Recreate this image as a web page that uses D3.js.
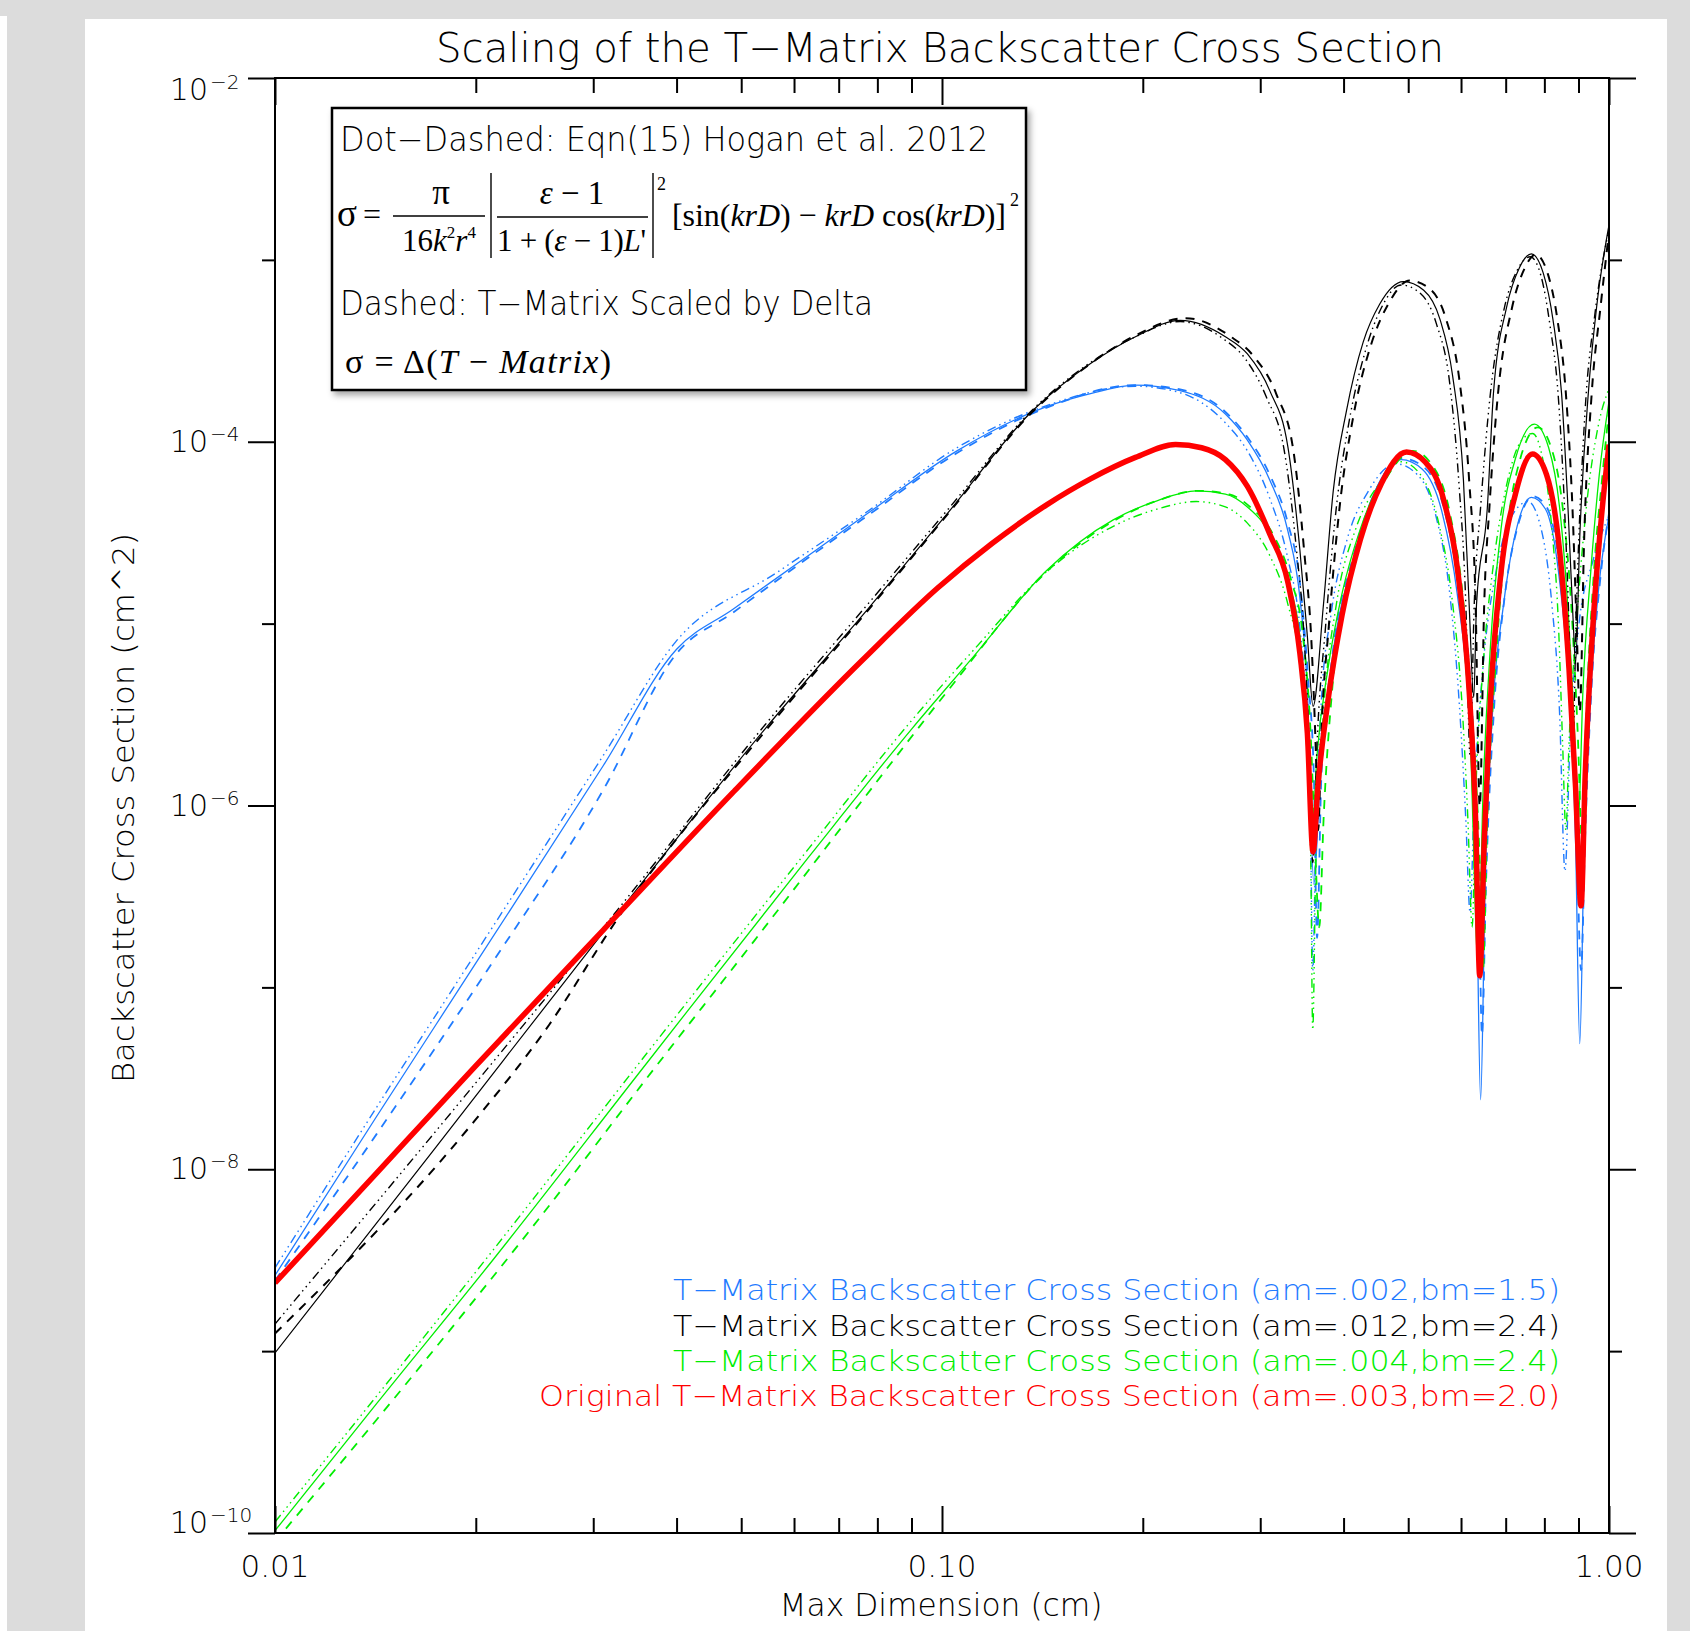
<!DOCTYPE html>
<html>
<head>
<meta charset="utf-8">
<script src="https://cdn.jsdelivr.net/npm/d3@7"></script>
<style>
  body { margin: 0; background: #dcdcdc; }
  svg { display: block; }
</style>
</head>
<body>
<div id="chart"></div>
<script>
// ---- data: [max dimension (cm), backscatter cross section (cm^2)] ----

const redOriginal = [
  [0.0100, 2.37e-9], [0.0142, 9.53e-9], [0.0199, 3.63e-8], [0.0311, 2.08e-7], [0.0486, 1.18e-6],
  [0.0760, 6.31e-6], [0.0985, 1.57e-5], [0.1187, 2.75e-5], [0.1435, 4.50e-5], [0.167, 6.25e-5],
  [0.195, 8.20e-5], [0.224, 9.66e-5], [0.245, 9.27e-5], [0.266, 7.98e-5], [0.287, 5.68e-5],
  [0.310, 3.11e-5], [0.330, 1.69e-5], [0.344, 6.85e-6], [0.353, 2.49e-6], [0.360, 5.56e-7],
  [0.366, 1.26e-6], [0.379, 3.76e-6], [0.398, 1.12e-5], [0.424, 2.91e-5], [0.456, 5.92e-5],
  [0.497, 8.79e-5], [0.530, 7.76e-5], [0.566, 4.69e-5], [0.596, 1.69e-5], [0.617, 4.31e-6],
  [0.631, 8.37e-7], [0.640, 1.16e-7], [0.650, 6.37e-7], [0.664, 3.76e-6], [0.689, 1.93e-5],
  [0.724, 5.16e-5], [0.768, 8.55e-5], [0.806, 6.59e-5], [0.843, 2.54e-5], [0.871, 5.66e-6],
  [0.891, 1.26e-6], [0.908, 2.81e-7], [0.921, 1.45e-6], [0.946, 9.77e-6], [0.974, 3.82e-5],
  [1.000, 9.66e-5]
]

// am=.002, bm=1.5
const blueTMatrix = [
  [0.0100, 2.61e-9], [0.0142, 1.95e-8], [0.0199, 1.32e-7], [0.0311, 1.67e-6], [0.0400, 7.23e-6],
  [0.0486, 1.20e-5], [0.0614, 2.21e-5], [0.0774, 4.04e-5], [0.1053, 8.91e-5], [0.1435, 1.56e-4],
  [0.167, 1.84e-4], [0.195, 2.05e-4], [0.2275, 1.91e-4], [0.266, 1.42e-4], [0.287, 1.02e-4],
  [0.310, 6.17e-5], [0.330, 3.24e-5], [0.344, 1.39e-5], [0.353, 4.31e-6], [0.361, 3.69e-7],
  [0.369, 1.45e-6], [0.383, 5.66e-6], [0.413, 2.21e-5], [0.444, 5.16e-5], [0.488, 7.98e-5],
  [0.525, 7.06e-5], [0.562, 4.09e-5], [0.592, 1.47e-5], [0.617, 3.28e-6], [0.633, 3.69e-7],
  [0.642, 2.41e-8], [0.652, 3.69e-7], [0.669, 3.28e-6], [0.695, 1.28e-5], [0.729, 3.48e-5],
  [0.765, 4.95e-5], [0.803, 4.27e-5], [0.840, 1.93e-5], [0.871, 4.31e-6], [0.891, 6.37e-7],
  [0.904, 4.90e-8], [0.918, 6.37e-7], [0.939, 4.31e-6], [0.967, 1.69e-5], [1.000, 3.93e-5]
]
const blueEqn = [
  [0.0100, 2.87e-9], [0.0142, 2.19e-8], [0.0199, 1.50e-7], [0.0311, 1.90e-6], [0.0399, 7.96e-6],
  [0.0568, 1.93e-5], [0.0774, 4.15e-5], [0.1053, 9.27e-5], [0.1435, 1.58e-4], [0.195, 2.02e-4],
  [0.2275, 1.86e-4], [0.266, 1.27e-4], [0.287, 8.91e-5], [0.310, 4.89e-5], [0.330, 2.28e-5],
  [0.344, 9.51e-6], [0.352, 3.19e-6], [0.357, 7.31e-7], [0.3596, 1.24e-7], [0.3636, 7.31e-7],
  [0.3705, 3.76e-6], [0.383, 1.12e-5], [0.405, 2.91e-5], [0.436, 5.37e-5], [0.479, 7.57e-5],
  [0.516, 6.59e-5], [0.551, 3.82e-5], [0.577, 1.47e-5], [0.596, 3.76e-6], [0.610, 8.37e-7],
  [0.619, 2.59e-7], [0.628, 1.10e-6], [0.647, 5.66e-6], [0.677, 1.93e-5], [0.713, 3.82e-5],
  [0.756, 4.69e-5], [0.791, 3.33e-5], [0.821, 1.28e-5], [0.843, 3.28e-6], [0.859, 4.36e-7],
  [0.875, 2.49e-6], [0.901, 9.77e-6], [0.946, 2.21e-5], [1.000, 3.93e-5]
]
const blueDelta = [
  [0.0100, 2.44e-9], [0.0142, 1.56e-8], [0.0208, 1.24e-7], [0.0311, 1.23e-6], [0.0400, 6.85e-6],
  [0.0486, 1.15e-5], [0.0614, 2.15e-5], [0.0774, 3.93e-5], [0.1053, 8.67e-5], [0.1435, 1.54e-4],
  [0.195, 2.05e-4], [0.2275, 1.94e-4], [0.266, 1.46e-4], [0.287, 1.06e-4], [0.310, 6.59e-5],
  [0.330, 3.57e-5], [0.344, 1.69e-5], [0.354, 4.93e-6], [0.361, 1.45e-6], [0.365, 1.87e-7],
  [0.3705, 1.45e-6], [0.3845, 6.49e-6], [0.414, 2.37e-5], [0.446, 5.30e-5], [0.4895, 8.09e-5],
  [0.5275, 7.26e-5], [0.566, 4.27e-5], [0.596, 1.57e-5], [0.6235, 3.28e-6], [0.638, 3.69e-7],
  [0.645, 5.47e-8], [0.654, 3.69e-7], [0.672, 3.28e-6], [0.697, 1.37e-5], [0.732, 3.57e-5],
  [0.768, 5.02e-5], [0.806, 4.38e-5], [0.843, 2.07e-5], [0.875, 4.61e-6], [0.894, 6.82e-7],
  [0.908, 1.24e-7], [0.921, 6.82e-7], [0.942, 4.61e-6], [0.971, 1.80e-5], [1.000, 4.04e-5]
]

// am=.012, bm=2.4
const blackTMatrix = [
  [0.0100, 9.77e-10], [0.01728, 1.27e-8], [0.0323, 2.42e-7], [0.0543, 2.64e-6], [0.0774, 1.20e-5],
  [0.1022, 4.09e-5], [0.1367, 1.48e-4], [0.167, 2.69e-4], [0.195, 3.78e-4], [0.2275, 4.65e-4],
  [0.266, 3.78e-4], [0.287, 3.04e-4], [0.310, 1.91e-4], [0.330, 9.40e-5], [0.344, 2.54e-5],
  [0.353, 8.51e-6], [0.360, 3.51e-6], [0.373, 1.25e-5], [0.386, 5.37e-5], [0.404, 1.48e-4],
  [0.428, 3.53e-4], [0.453, 5.70e-4], [0.4915, 7.59e-4], [0.5275, 6.81e-4], [0.558, 4.71e-4],
  [0.583, 2.29e-4], [0.605, 6.17e-5], [0.617, 1.28e-5], [0.627, 3.92e-6], [0.633, 1.28e-5],
  [0.657, 4.32e-5], [0.671, 1.84e-4], [0.702, 5.47e-4], [0.734, 9.06e-4], [0.765, 1.08e-3],
  [0.797, 8.45e-4], [0.824, 4.71e-4], [0.849, 1.84e-4], [0.868, 4.32e-5], [0.884, 1.00e-5],
  [0.891, 6.05e-6], [0.904, 2.99e-5], [0.931, 1.84e-4], [0.958, 5.47e-4], [1.000, 1.56e-3]
]
const blackEqn = [
  [0.0100, 1.41e-9], [0.0199, 2.92e-8], [0.0323, 2.55e-7], [0.0543, 2.78e-6], [0.0774, 1.28e-5],
  [0.1022, 4.27e-5], [0.1367, 1.50e-4], [0.167, 2.73e-4], [0.195, 3.78e-4], [0.2275, 4.58e-4],
  [0.2641, 3.68e-4], [0.2844, 2.88e-4], [0.3064, 1.76e-4], [0.3264, 8.67e-5], [0.3400, 2.54e-5],
  [0.3490, 8.51e-6], [0.3556, 1.90e-6], [0.3596, 4.85e-7], [0.365, 2.18e-6], [0.3760, 9.77e-6],
  [0.3902, 4.38e-5], [0.4080, 1.31e-4], [0.4314, 3.17e-4], [0.456, 5.47e-4], [0.488, 7.28e-4],
  [0.5217, 6.53e-4], [0.551, 4.46e-4], [0.577, 2.10e-4], [0.596, 5.75e-5], [0.610, 1.28e-5],
  [0.619, 1.90e-6], [0.628, 1.28e-5], [0.642, 4.38e-5], [0.664, 1.84e-4], [0.697, 5.47e-4],
  [0.729, 8.81e-4], [0.7621, 1.04e-3], [0.791, 8.13e-4], [0.8150, 4.46e-4], [0.840, 1.71e-4],
  [0.859, 3.82e-5], [0.871, 9.77e-6], [0.8815, 1.90e-6], [0.894, 1.28e-5], [0.921, 1.50e-4],
  [0.953, 5.11e-4], [1.000, 1.48e-3]
]
const blackDelta = [
  [0.0100, 1.25e-9], [0.0199, 1.84e-8], [0.0258, 6.27e-8], [0.0323, 2.26e-7], [0.0543, 2.56e-6],
  [0.0774, 1.18e-5], [0.1022, 4.04e-5], [0.1367, 1.46e-4], [0.167, 2.69e-4], [0.195, 3.84e-4],
  [0.2318, 4.78e-4], [0.2710, 3.78e-4], [0.2931, 2.96e-4], [0.3169, 1.84e-4], [0.3364, 8.91e-5],
  [0.349, 2.54e-5], [0.3583, 7.43e-6], [0.3636, 1.90e-6], [0.3664, 7.31e-7], [0.3705, 2.49e-6],
  [0.3802, 9.77e-6], [0.3946, 4.38e-5], [0.414, 1.40e-4], [0.4395, 3.39e-4], [0.4665, 5.70e-4],
  [0.5025, 7.69e-4], [0.5393, 6.90e-4], [0.570, 4.71e-4], [0.596, 2.25e-4], [0.617, 6.17e-5],
  [0.631, 1.28e-5], [0.640, 9.86e-7], [0.650, 1.28e-5], [0.6618, 4.38e-5], [0.6817, 1.84e-4],
  [0.7156, 5.47e-4], [0.7482, 9.06e-4], [0.7767, 1.07e-3], [0.8090, 8.45e-4], [0.8368, 4.71e-4],
  [0.8617, 1.84e-4], [0.8815, 4.32e-5], [0.894, 1.00e-5], [0.904, 3.28e-6], [0.918, 2.99e-5],
  [0.942, 1.84e-4], [0.971, 5.47e-4], [1.000, 1.42e-3]
]

// am=.004, bm=2.4
const greenTMatrix = [
  [0.0100, 1.03e-10], [0.0142, 5.14e-10], [0.0212, 3.16e-9], [0.0361, 3.84e-8], [0.0631, 5.20e-7],
  [0.0901, 2.64e-6], [0.1118, 6.67e-6], [0.1435, 1.96e-5], [0.1806, 3.72e-5], [0.2105, 4.75e-5],
  [0.2406, 5.37e-5], [0.266, 5.16e-5], [0.287, 4.38e-5], [0.310, 3.11e-5], [0.330, 1.73e-5],
  [0.344, 8.51e-6], [0.353, 2.49e-6], [0.358, 6.37e-7], [0.365, 1.90e-6], [0.379, 5.66e-6],
  [0.398, 1.47e-5], [0.424, 3.33e-5], [0.456, 6.17e-5], [0.5025, 8.91e-5], [0.535, 7.57e-5],
  [0.570, 4.09e-5], [0.598, 1.28e-5], [0.619, 2.49e-6], [0.637, 1.31e-7], [0.647, 1.10e-6],
  [0.664, 7.43e-6], [0.689, 3.33e-5], [0.724, 8.09e-5], [0.773, 1.25e-4], [0.812, 9.27e-5],
  [0.843, 4.38e-5], [0.871, 9.77e-6], [0.888, 2.49e-6], [0.899, 7.82e-7], [0.914, 4.31e-6],
  [0.939, 1.93e-5], [0.967, 6.59e-5], [1.000, 1.67e-4]
]
const greenEqn = [
  [0.0100, 1.15e-10], [0.0212, 3.57e-9], [0.0361, 4.34e-8], [0.0631, 5.79e-7], [0.0901, 2.94e-6],
  [0.1118, 7.23e-6], [0.1435, 1.93e-5], [0.1806, 3.43e-5], [0.2105, 4.27e-5], [0.2406, 4.69e-5],
  [0.266, 4.38e-5], [0.287, 3.57e-5], [0.310, 2.37e-5], [0.330, 1.28e-5], [0.344, 6.05e-6],
  [0.352, 2.18e-6], [0.357, 5.56e-7], [0.3596, 5.85e-8], [0.3636, 5.56e-7], [0.3733, 3.28e-6],
  [0.3902, 1.28e-5], [0.4173, 3.33e-5], [0.453, 5.92e-5], [0.488, 7.76e-5], [0.5217, 6.59e-5],
  [0.5555, 3.57e-5], [0.583, 1.28e-5], [0.6030, 3.28e-6], [0.6144, 8.37e-7], [0.6235, 2.14e-7],
  [0.631, 1.10e-6], [0.647, 5.66e-6], [0.672, 2.21e-5], [0.702, 5.75e-5], [0.7398, 1.02e-4],
  [0.768, 1.11e-4], [0.797, 7.76e-5], [0.821, 3.33e-5], [0.840, 9.77e-6], [0.8521, 2.18e-6],
  [0.8617, 7.31e-7], [0.871, 2.18e-6], [0.891, 8.51e-6], [0.9249, 4.38e-5], [0.9634, 1.22e-4],
  [1.000, 1.96e-4]
]
const greenDelta = [
  [0.0100, 8.97e-11], [0.01634, 7.85e-10], [0.0249, 5.37e-9], [0.0361, 3.17e-8], [0.0524, 1.82e-7],
  [0.0760, 1.07e-6], [0.1022, 4.31e-6], [0.1435, 1.93e-5], [0.1806, 3.66e-5], [0.2105, 4.75e-5],
  [0.2424, 5.37e-5], [0.2690, 5.16e-5], [0.2897, 4.38e-5], [0.3133, 3.11e-5], [0.3338, 1.73e-5],
  [0.3477, 8.51e-6], [0.357, 2.49e-6], [0.3623, 6.37e-7], [0.3678, 2.14e-7], [0.3733, 8.37e-7],
  [0.3845, 4.31e-6], [0.405, 1.57e-5], [0.4298, 3.48e-5], [0.4630, 6.25e-5], [0.5082, 8.91e-5],
  [0.5413, 7.57e-5], [0.577, 4.09e-5], [0.6053, 1.28e-5], [0.6258, 2.49e-6], [0.640, 4.85e-7],
  [0.647, 1.24e-7], [0.6568, 8.37e-7], [0.677, 6.49e-6], [0.702, 3.11e-5], [0.734, 7.76e-5],
  [0.7825, 1.20e-4], [0.821, 9.04e-5], [0.852, 4.38e-5], [0.8815, 9.77e-6], [0.8977, 2.49e-6],
  [0.9111, 6.37e-7], [0.9249, 3.28e-6], [0.9493, 1.93e-5], [0.9779, 6.59e-5], [1.000, 1.50e-4]
]

// axis ticks
const xMajorTicks = [0.01, 0.1, 1]
const xMinorTicks = [0.02, 0.03, 0.04, 0.05, 0.06, 0.07, 0.08, 0.09, 0.2, 0.3, 0.4, 0.5, 0.6, 0.7, 0.8, 0.9]
const xTickLabels = ['0.01', '0.10', '1.00']
const yMajorTicks = [1e-2, 1e-4, 1e-6, 1e-8, 1e-10]
const yMinorTicks = [1e-3, 1e-5, 1e-7, 1e-9]
const yTickExponents = ['\u22122', '\u22124', '\u22126', '\u22128', '\u221210']

const legendLabels = [
  'T\u2212Matrix Backscatter Cross Section (am=.002,bm=1.5)',
  'T\u2212Matrix Backscatter Cross Section (am=.012,bm=2.4)',
  'T\u2212Matrix Backscatter Cross Section (am=.004,bm=2.4)',
  'Original T\u2212Matrix Backscatter Cross Section (am=.003,bm=2.0)'
]

// ---- layout ----
const W = 1690, H = 1631
const plot = { left: 275, right: 1609, top: 78, bottom: 1533 }
const SANS = "'DejaVu Sans', 'Liberation Sans', sans-serif"
const SERIF = "'Liberation Serif', 'Times New Roman', serif"
const BLUE = '#1f7bff', GREEN = '#00ee00', RED = '#ff0000', BLACK = '#000'

const DASH = '9,8'
const DASHDOT = '9,4,1.5,4,1.5,4,1.5,4'

const series = [
  { data: blueDelta, color: BLUE, dash: DASH, width: 1.8 },
  { data: blueEqn, color: BLUE, dash: DASHDOT, width: 1.4 },
  { data: blueTMatrix, color: BLUE, dash: null, width: 1.3 },
  { data: greenDelta, color: GREEN, dash: DASH, width: 1.8 },
  { data: greenEqn, color: GREEN, dash: DASHDOT, width: 1.4 },
  { data: greenTMatrix, color: GREEN, dash: null, width: 1.3 },
  { data: blackDelta, color: BLACK, dash: DASH, width: 2 },
  { data: blackEqn, color: BLACK, dash: DASHDOT, width: 1.4 },
  { data: blackTMatrix, color: BLACK, dash: null, width: 1.2 },
  { data: redOriginal, color: RED, dash: null, width: 5.5 }
]

const svg = d3.select('#chart').append('svg')
  .attr('width', W)
  .attr('height', H)

// page background: grey frame with white panels
svg.append('rect').attr('width', W).attr('height', H).attr('fill', '#dcdcdc')
svg.append('rect').attr('x', 0).attr('y', 16).attr('width', 7).attr('height', H - 16).attr('fill', '#fff')
svg.append('rect').attr('x', 85).attr('y', 19).attr('width', 1582).attr('height', H - 19).attr('fill', '#fff')

const x = d3.scaleLog().domain([0.01, 1]).range([plot.left, plot.right])
const y = d3.scaleLog().domain([1e-10, 1e-2]).range([plot.bottom, plot.top])

svg.append('defs').append('clipPath').attr('id', 'plot-clip')
  .append('rect')
  .attr('x', plot.left).attr('y', plot.top)
  .attr('width', plot.right - plot.left).attr('height', plot.bottom - plot.top)

// curves
const line = d3.line()
  .x(d => x(d[0]))
  .y(d => y(d[1]))
  .curve(d3.curveMonotoneX)

svg.append('g')
  .attr('clip-path', 'url(#plot-clip)')
  .selectAll('path')
  .data(series)
  .enter()
  .append('path')
  .attr('d', d => line(d.data))
  .attr('fill', 'none')
  .attr('stroke', d => d.color)
  .attr('stroke-width', d => d.width)
  .attr('stroke-dasharray', d => d.dash)
  .attr('stroke-linejoin', 'round')

// ticks (x ticks point inward, y ticks point outward, as in the original)
function tickAxis(axis, transform, values, size) {
  svg.append('g')
    .attr('transform', transform)
    .call(axis.tickValues(values).tickSize(size).tickSizeOuter(0).tickFormat(() => ''))
    .call(g => g.select('.domain').remove())
    .call(g => g.selectAll('line').attr('stroke', '#000').attr('stroke-width', 2))
}
tickAxis(d3.axisBottom(x), `translate(0,${plot.bottom})`, xMajorTicks, -27)
tickAxis(d3.axisBottom(x), `translate(0,${plot.bottom})`, xMinorTicks, -15)
tickAxis(d3.axisTop(x), `translate(0,${plot.top})`, xMajorTicks, -27)
tickAxis(d3.axisTop(x), `translate(0,${plot.top})`, xMinorTicks, -15)
tickAxis(d3.axisLeft(y), `translate(${plot.left},0)`, yMajorTicks, 27)
tickAxis(d3.axisLeft(y), `translate(${plot.left},0)`, yMinorTicks, 13)
tickAxis(d3.axisRight(y), `translate(${plot.right},0)`, yMajorTicks, 27)
tickAxis(d3.axisRight(y), `translate(${plot.right},0)`, yMinorTicks, 13)

svg.append('rect')
  .attr('x', plot.left).attr('y', plot.top)
  .attr('width', plot.right - plot.left).attr('height', plot.bottom - plot.top)
  .attr('fill', 'none').attr('stroke', '#000').attr('stroke-width', 2)

// tick labels
svg.append('g').selectAll('text')
  .data(xMajorTicks)
  .enter().append('text')
  .attr('x', d => x(d))
  .attr('y', plot.bottom + 44)
  .attr('text-anchor', 'middle')
  .attr('font-family', SANS).attr('font-size', 31).attr('font-weight', 200)
  .text((d, i) => xTickLabels[i])

// keep the top and bottom labels inside the axis range like IDL does
const yLabelShift = v => v === 1e-2 ? 22 : (v === 1e-10 ? 0 : 10)
const yLabels = svg.append('g').selectAll('g')
  .data(yMajorTicks)
  .enter().append('g')
yLabels.append('text')
  .attr('x', 208)
  .attr('y', d => y(d) + yLabelShift(d))
  .attr('text-anchor', 'end')
  .attr('font-family', SANS).attr('font-size', 30).attr('font-weight', 200)
  .text('10')
yLabels.append('text')
  .attr('x', 210)
  .attr('y', d => y(d) + yLabelShift(d) - 11)
  .attr('font-family', SANS).attr('font-size', 20).attr('font-weight', 200)
  .text((d, i) => yTickExponents[i])

// titles
svg.append('text')
  .attr('x', 940).attr('y', 62)
  .attr('text-anchor', 'middle')
  .attr('font-family', SANS).attr('font-size', 41).attr('font-weight', 200)
  .attr('textLength', 1008).attr('lengthAdjust', 'spacingAndGlyphs')
  .text('Scaling of the T\u2212Matrix Backscatter Cross Section')

svg.append('text')
  .attr('x', 941).attr('y', 1616)
  .attr('text-anchor', 'middle')
  .attr('font-family', SANS).attr('font-size', 32).attr('font-weight', 200)
  .attr('textLength', 323).attr('lengthAdjust', 'spacingAndGlyphs')
  .text('Max Dimension (cm)')

svg.append('text')
  .attr('transform', 'translate(134,808) rotate(-90)')
  .attr('text-anchor', 'middle')
  .attr('font-family', SANS).attr('font-size', 31).attr('font-weight', 200)
  .attr('textLength', 550).attr('lengthAdjust', 'spacingAndGlyphs')
  .text('Backscatter Cross Section (cm^2)')

// colour legend, right aligned at the bottom of the plot
const legendColors = [BLUE, BLACK, GREEN, RED]
const legendBaselines = [1300, 1336, 1371, 1406]
const legendWidths = [887, 887, 887, 1021]
svg.append('g').selectAll('text')
  .data(legendLabels)
  .enter().append('text')
  .attr('x', 1560)
  .attr('y', (d, i) => legendBaselines[i])
  .attr('text-anchor', 'end')
  .attr('fill', (d, i) => legendColors[i])
  .attr('font-family', SANS).attr('font-size', 29).attr('font-weight', 200)
  .attr('textLength', (d, i) => legendWidths[i]).attr('lengthAdjust', 'spacingAndGlyphs')
  .text(d => d)

// equation box
const shadow = svg.select('defs').append('filter').attr('id', 'shadow')
  .attr('x', '-5%').attr('y', '-5%').attr('width', '115%').attr('height', '120%')
shadow.append('feDropShadow')
  .attr('dx', 3).attr('dy', 4).attr('stdDeviation', 3)
  .attr('flood-color', '#000').attr('flood-opacity', 0.35)

const box = svg.append('g')
box.append('rect')
  .attr('x', 332).attr('y', 108).attr('width', 694).attr('height', 282)
  .attr('fill', '#fff').attr('stroke', '#000').attr('stroke-width', 2.5)
  .attr('filter', 'url(#shadow)')

box.append('text')
  .attr('x', 340).attr('y', 151)
  .attr('font-family', SANS).attr('font-size', 33).attr('font-weight', 200)
  .attr('textLength', 648).attr('lengthAdjust', 'spacingAndGlyphs')
  .text('Dot\u2212Dashed: Eqn(15) Hogan et al. 2012')

box.append('text')
  .attr('x', 340).attr('y', 315)
  .attr('font-family', SANS).attr('font-size', 33).attr('font-weight', 200)
  .attr('textLength', 533).attr('lengthAdjust', 'spacingAndGlyphs')
  .text('Dashed: T\u2212Matrix Scaled by Delta')

// Hogan et al. equation
function serif(g, xx, yy, size, anchor) {
  return g.append('text')
    .attr('x', xx).attr('y', yy)
    .attr('text-anchor', anchor || 'start')
    .attr('font-family', SERIF).attr('font-size', size)
}
serif(box, 337, 226, 37).text('\u03c3')
serif(box, 363, 225, 32).text('=')
serif(box, 441, 204, 35, 'middle').text('\u03c0')
box.append('line').attr('x1', 393).attr('x2', 485).attr('y1', 216).attr('y2', 216)
  .attr('stroke', '#000').attr('stroke-width', 1.3)
const den1 = serif(box, 439, 251, 31, 'middle')
den1.append('tspan').text('16')
den1.append('tspan').attr('font-style', 'italic').text('k')
den1.append('tspan').attr('font-size', 17).attr('dy', -13).text('2')
den1.append('tspan').attr('font-style', 'italic').attr('dy', 13).text('r')
den1.append('tspan').attr('font-size', 17).attr('dy', -13).text('4')

box.selectAll('.absbar')
  .data([491, 653])
  .enter().append('line')
  .attr('class', 'absbar')
  .attr('x1', d => d).attr('x2', d => d)
  .attr('y1', 173).attr('y2', 258)
  .attr('stroke', '#000').attr('stroke-width', 1.4)

const num2 = serif(box, 572, 204, 33, 'middle')
num2.append('tspan').attr('font-style', 'italic').text('\u03b5')
num2.append('tspan').text(' \u2212 1')
box.append('line').attr('x1', 497).attr('x2', 648).attr('y1', 217).attr('y2', 217)
  .attr('stroke', '#000').attr('stroke-width', 1.3)
const den2 = serif(box, 497, 251, 31)
  .attr('textLength', 149).attr('lengthAdjust', 'spacing')
den2.append('tspan').text('1 + (')
den2.append('tspan').attr('font-style', 'italic').text('\u03b5')
den2.append('tspan').text(' \u2212 1)')
den2.append('tspan').attr('font-style', 'italic').text('L')
den2.append('tspan').text("'")
serif(box, 657, 190, 18).text('2')

const bracket = serif(box, 672, 226, 32)
  .attr('textLength', 334).attr('lengthAdjust', 'spacing')
bracket.append('tspan').text('[sin(')
bracket.append('tspan').attr('font-style', 'italic').text('krD')
bracket.append('tspan').text(') \u2212 ')
bracket.append('tspan').attr('font-style', 'italic').text('krD')
bracket.append('tspan').text(' cos(')
bracket.append('tspan').attr('font-style', 'italic').text('krD')
bracket.append('tspan').text(')]')
serif(box, 1010, 206, 18).text('2')

const delta = serif(box, 345, 373, 34)
  .attr('textLength', 266).attr('lengthAdjust', 'spacing')
delta.append('tspan').text('\u03c3 = \u0394(')
delta.append('tspan').attr('font-style', 'italic').text('T')
delta.append('tspan').text(' \u2212 ')
delta.append('tspan').attr('font-style', 'italic').text('Matrix')
delta.append('tspan').text(')')
</script>
</body>
</html>
